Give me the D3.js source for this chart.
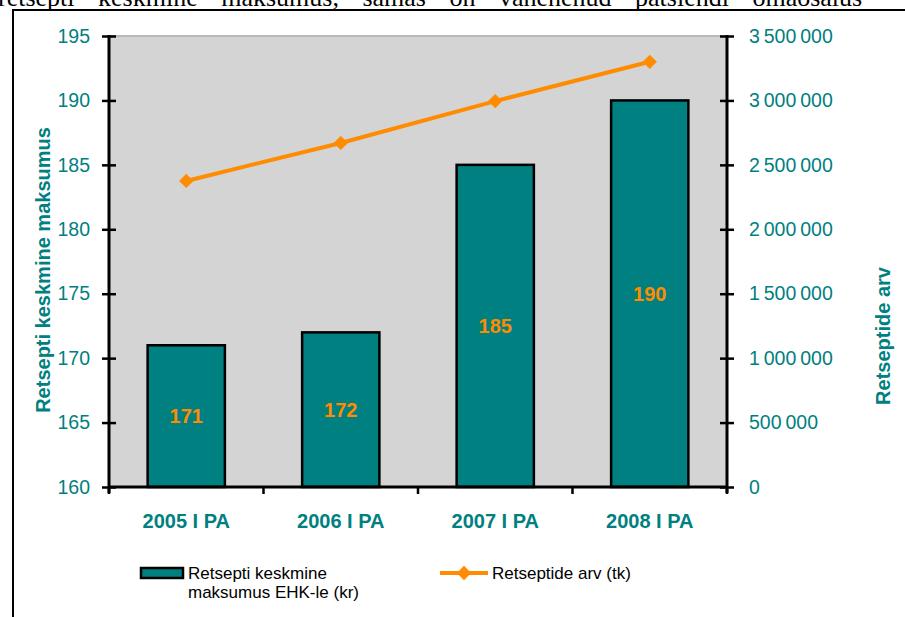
<!DOCTYPE html>
<html>
<head>
<meta charset="utf-8">
<script src="https://cdn.jsdelivr.net/npm/d3@7"></script>
<style>
  body { margin: 0; background: #fff; }
  svg { display: block; }
  text { font-family: "Liberation Sans", Arial, sans-serif; }
</style>
</head>
<body>
<svg width="905" height="617"></svg>
<script>
// chart values
var categories = ['2005 I PA', '2006 I PA', '2007 I PA', '2008 I PA'];
var avgCost = [171, 172, 185, 190];
var prescriptions = [2375000, 2670000, 2995000, 3300000];
var leftTicks = [160, 165, 170, 175, 180, 185, 190, 195];
var rightTicks = [0, 500000, 1000000, 1500000, 2000000, 2500000, 3000000, 3500000];
var leftTitle = 'Retsepti keskmine maksumus';
var rightTitle = 'Retseptide arv';
var legendBar = ['Retsepti keskmine', 'maksumus EHK-le (kr)'];
var legendLine = 'Retseptide arv (tk)';
var headText = 'retsepti keskmine maksumus, samas on vähenenud patsiendi omaosalus';

var svg = d3.select('svg');
var plot = {l: 109, r: 727, t: 36, b: 487};
var teal = '#008080';
var orange = '#ff8c00';

var locale = d3.formatLocale({decimal: ',', thousands: '\u2009', grouping: [3], currency: ['', '']});
var fmt = locale.format(',');

var x = d3.scaleBand()
    .domain(categories)
    .range([plot.l, plot.r])
    .paddingInner(0.5)
    .paddingOuter(0.25);

var yL = d3.scaleLinear().domain([160, 195]).range([plot.b, plot.t]);
var yR = d3.scaleLinear().domain([0, 3500000]).range([plot.b, plot.t]);

// cut-off text line from the page above
svg.append('text')
    .attr('x', -2)
    .attr('y', 6)
    .style('font-family', '"Liberation Serif", "Times New Roman", serif')
    .style('word-spacing', '17px')
    .attr('font-size', 26)
    .text(headText);

// outer frame
svg.append('path')
    .attr('d', 'M13,617 L13,10 L905,10')
    .attr('fill', 'none')
    .attr('stroke', '#000')
    .attr('stroke-width', 2);

// plot area
svg.append('rect')
    .attr('x', plot.l)
    .attr('y', plot.t)
    .attr('width', plot.r - plot.l)
    .attr('height', plot.b - plot.t)
    .attr('fill', '#d4d4d4');

svg.append('line')
    .attr('x1', plot.l).attr('x2', plot.r)
    .attr('y1', plot.t).attr('y2', plot.t)
    .attr('stroke', '#b5b9bd')
    .attr('stroke-width', 2);

// bars
svg.selectAll('.bar')
    .data(avgCost)
    .enter()
    .append('rect')
    .attr('class', 'bar')
    .attr('x', function(d, i) { return x(categories[i]); })
    .attr('y', function(d) { return yL(d); })
    .attr('width', x.bandwidth())
    .attr('height', function(d) { return plot.b - yL(d); })
    .attr('fill', teal)
    .attr('stroke', '#000')
    .attr('stroke-width', 2.5);

svg.selectAll('.barLabel')
    .data(avgCost)
    .enter()
    .append('text')
    .attr('class', 'barLabel')
    .attr('x', function(d, i) { return x(categories[i]) + x.bandwidth() / 2; })
    .attr('y', function(d) { return (yL(d) + plot.b) / 2; })
    .attr('dy', '0.35em')
    .attr('text-anchor', 'middle')
    .attr('font-size', 20)
    .attr('font-weight', 'bold')
    .attr('fill', orange)
    .text(function(d) { return d; });

// line
var line = d3.line()
    .x(function(d, i) { return x(categories[i]) + x.bandwidth() / 2; })
    .y(function(d) { return yR(d); });

svg.append('path')
    .datum(prescriptions)
    .attr('d', line)
    .attr('fill', 'none')
    .attr('stroke', orange)
    .attr('stroke-width', 4);

var diamond = d3.symbol().type(d3.symbolDiamond2).size(130);

svg.selectAll('.marker')
    .data(prescriptions)
    .enter()
    .append('path')
    .attr('class', 'marker')
    .attr('d', diamond)
    .attr('transform', function(d, i) {
        return 'translate(' + [x(categories[i]) + x.bandwidth() / 2, yR(d)] + ')';
    })
    .attr('fill', orange);

// axes
var axisL = d3.axisLeft(yL).tickValues(leftTicks).tickSize(0).tickPadding(19);
var axisR = d3.axisRight(yR).tickValues(rightTicks).tickSize(0).tickPadding(22).tickFormat(fmt);

var gL = svg.append('g').attr('transform', 'translate(' + plot.l + ',0)').call(axisL);
var gR = svg.append('g').attr('transform', 'translate(' + plot.r + ',0)').call(axisR);

[gL, gR].forEach(function(g) {
    g.select('.domain').remove();
    g.selectAll('text')
        .attr('font-size', 19.5)
        .attr('font-family', null)
        .attr('fill', teal);
    g.selectAll('.tick').append('line')
        .attr('x1', -7).attr('x2', 7)
        .attr('stroke', '#000')
        .attr('stroke-width', 2.5);
    g.append('line')
        .attr('y1', plot.t - 1).attr('y2', plot.b + 6)
        .attr('stroke', '#000')
        .attr('stroke-width', 3);
});

// x axis
svg.append('line')
    .attr('x1', plot.l).attr('x2', plot.r)
    .attr('y1', plot.b).attr('y2', plot.b)
    .attr('stroke', '#000')
    .attr('stroke-width', 3);

// category boundaries
var bounds = categories.map(function(c, i) { return plot.l + i * x.step(); }).concat([plot.r]);

svg.selectAll('.xtick')
    .data(bounds)
    .enter()
    .append('line')
    .attr('class', 'xtick')
    .attr('x1', function(d) { return d; })
    .attr('x2', function(d) { return d; })
    .attr('y1', plot.b)
    .attr('y2', plot.b + 7)
    .attr('stroke', '#000')
    .attr('stroke-width', 2.5);

svg.selectAll('.xlabel')
    .data(categories)
    .enter()
    .append('text')
    .attr('class', 'xlabel')
    .attr('x', function(d) { return x(d) + x.bandwidth() / 2; })
    .attr('y', 528)
    .attr('text-anchor', 'middle')
    .attr('font-size', 20)
    .attr('font-weight', 'bold')
    .attr('fill', teal)
    .text(function(d) { return d; });

// axis titles
svg.append('text')
    .attr('transform', 'translate(50,270) rotate(-90)')
    .attr('text-anchor', 'middle')
    .attr('font-size', 20)
    .attr('font-weight', 'bold')
    .attr('fill', teal)
    .text(leftTitle);

svg.append('text')
    .attr('transform', 'translate(890,336) rotate(-90)')
    .attr('text-anchor', 'middle')
    .attr('font-size', 20)
    .attr('font-weight', 'bold')
    .attr('fill', teal)
    .text(rightTitle);

// legend
var legend = svg.append('g');

legend.append('rect')
    .attr('x', 141).attr('y', 568)
    .attr('width', 42).attr('height', 10)
    .attr('fill', teal)
    .attr('stroke', '#000')
    .attr('stroke-width', 2.5);

legend.selectAll('.lg1')
    .data(legendBar)
    .enter()
    .append('text')
    .attr('class', 'lg1')
    .attr('x', 188)
    .attr('y', function(d, i) { return 579 + i * 19; })
    .attr('font-size', 17)
    .text(function(d) { return d; });

legend.append('line')
    .attr('x1', 440).attr('x2', 488)
    .attr('y1', 573).attr('y2', 573)
    .attr('stroke', orange)
    .attr('stroke-width', 4);

legend.append('path')
    .attr('d', diamond)
    .attr('transform', 'translate(464,573)')
    .attr('fill', orange);

legend.append('text')
    .attr('x', 492)
    .attr('y', 579)
    .attr('font-size', 17)
    .text(legendLine);
</script>
</body>
</html>
